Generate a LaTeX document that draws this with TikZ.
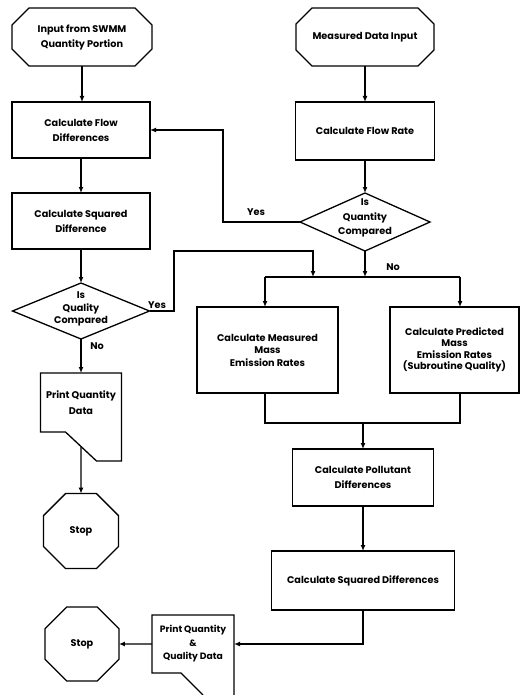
\documentclass[tikz,border=0pt]{standalone}
\usepackage{fontspec}
\setmainfont{Poppins}
\usetikzlibrary{arrows.meta,shapes.geometric,calc}
\newcommand\drawchamfer[2]{%
  \draw[conn] ($(#1.north west)+(#2,0)$) -- ($(#1.north east)+(-#2,0)$)
    -- ($(#1.north east)+(0,#2)$) -- ($(#1.south east)+(0,-#2)$)
    -- ($(#1.south east)+(-#2,0)$) -- ($(#1.south west)+(#2,0)$)
    -- ($(#1.south west)+(0,-#2)$) -- ($(#1.north west)+(0,#2)$) -- cycle;}
\begin{document}
\begin{tikzpicture}[x=1pt,y=-1pt]
\tikzset{
  base/.style={font=\fontsize{9.7}{12.5}\selectfont\bfseries, align=center, inner sep=0pt, outer sep=0pt},
  two/.style={font=\fontsize{9.7}{15}\selectfont\bfseries},
  procbox/.style={base, draw, line width=1.3pt},
  plain/.style={base},
  dia/.style={diamond, draw, line width=1.3pt, inner sep=0pt, outer sep=0pt},
  stopshape/.style={base, regular polygon, regular polygon sides=8, draw, line width=1.3pt},
  conn/.style={line width=1.3pt},
  arr/.style={conn, -{Latex[length=6pt,width=5pt]}},
  lab/.style={font=\fontsize{9.7}{11}\selectfont\bfseries, inner sep=0pt}
}
\useasboundingbox (0,0) rectangle (521,695);
% left column
\node[plain, two, minimum width=140pt, minimum height=58pt] (in1) at (82,37) {Input from SWMM\\Quantity Portion};
\drawchamfer{in1}{17}
\node[procbox, two, minimum width=138pt, minimum height=56pt] (flowdiff) at (81,130) {Calculate Flow\\Differences};
\node[procbox, two, minimum width=138pt, minimum height=56pt] (sqdiff) at (81,221) {Calculate Squared\\Difference};
\node[dia, minimum width=137pt, minimum height=56pt] (dq) at (81,311) {};
\node[plain] (dqt) at (81,309) {Is\\Quality\\Compared};
\node[plain, font=\fontsize{9.7}{16}\selectfont\bfseries, minimum width=81pt, minimum height=59pt] (pq) at (81,402.5) {Print Quantity\\Data};
\draw[conn] (pq.south west) -- (pq.north west) -- (pq.north east) -- ($(pq.south east)+(0,29)$) -- ++(-25,0) -- ($(pq.south west)+(25,0)$) -- cycle;
\node[stopshape, minimum size=81pt] (stop1) at (81,531) {Stop};
% right column
\node[plain, minimum width=138pt, minimum height=58pt] (in2) at (365,37) {Measured Data Input};
\drawchamfer{in2}{16}
\node[procbox, minimum width=139pt, minimum height=58pt] (flowrate) at (365,131) {Calculate Flow Rate};
\node[dia, minimum width=130pt, minimum height=58pt] (dqty) at (365,222) {};
\node[plain, font=\fontsize{9.7}{14.5}\selectfont\bfseries] (dqtyt) at (365,218) {Is\\Quantity\\Compared};
\node[procbox, minimum width=141pt, minimum height=86pt] (meas) at (267.5,350) {Calculate Measured\\Mass\\Emission Rates};
\node[procbox, font=\fontsize{9.7}{11.5}\selectfont\bfseries, minimum width=129pt, minimum height=86pt] (pred) at (454.5,350) {Calculate Predicted\\Mass\\Emission Rates\\(Subroutine Quality)};
\node[procbox, two, minimum width=141pt, minimum height=57pt] (poll) at (363,477.5) {Calculate Pollutant\\Differences};
\node[procbox, minimum width=183pt, minimum height=59pt] (sqd2) at (363,580.5) {Calculate Squared Differences};
\node[plain, font=\fontsize{9.2}{13.5}\selectfont\bfseries, minimum width=82pt, minimum height=58pt] (pqq) at (193,644) {Print Quantity\\\&\\Quality Data};
\draw[conn] ($(pqq.south east)+(0,22)$) -- (pqq.north east) -- (pqq.north west) -- (pqq.south west) -- ++(29,0) -- ++(22,22);
\node[stopshape, minimum size=80pt] (stop2) at (82,644) {Stop};
% connectors
\draw[arr] (in1.south) -- (in1.south |- flowdiff.north);
\draw[arr] (flowdiff) -- (sqdiff);
\draw[arr] (sqdiff) -- (dq.north);
\draw[arr] (dq.south) -- (pq.north);
\coordinate (pqd) at ($(pq.south)+(0,14.5)$);
\draw[arr] (pqd) -- (stop1.north);
\draw[arr] (in2) -- (flowrate);
\draw[arr] (flowrate) -- (dqty.north);
\coordinate (c1) at (223,130);
\draw[arr] (dqty.west) -| (c1) -- (flowdiff.east);
\coordinate (jc) at (365,277);
\coordinate (jl) at (265,277);
\coordinate (jr) at (460,277);
\coordinate (jy) at (313,277);
\coordinate (c2) at (174,251);
\draw[arr] (dqty.south) -- (jc);
\draw[conn] (jl) -- (jr);
\draw[arr] (jl) -- (jl |- meas.north);
\draw[arr] (jr) -- (jr |- pred.north);
\draw[arr] (dq.east) -| (c2) -| (jy);
\coordinate (ml) at (265,423);
\coordinate (mr) at (460,423);
\coordinate (mc) at (363,423);
\draw[conn] (jl |- meas.south) -- (ml) -- (mr) -- (jr |- pred.south);
\draw[arr] (mc) -- (poll.north);
\draw[arr] (poll) -- (sqd2);
\draw[arr] (sqd2.south) |- (pqq.east);
\draw[arr] (pqq.west) -- (stop2.east);
% labels
\node[lab] (yes1) at (256,212) {Yes};
\node[lab] (yes2) at (157,305) {Yes};
\node[lab] (no1) at (97,346) {No};
\node[lab] (no2) at (393,267) {No};
\end{tikzpicture}
\end{document}
